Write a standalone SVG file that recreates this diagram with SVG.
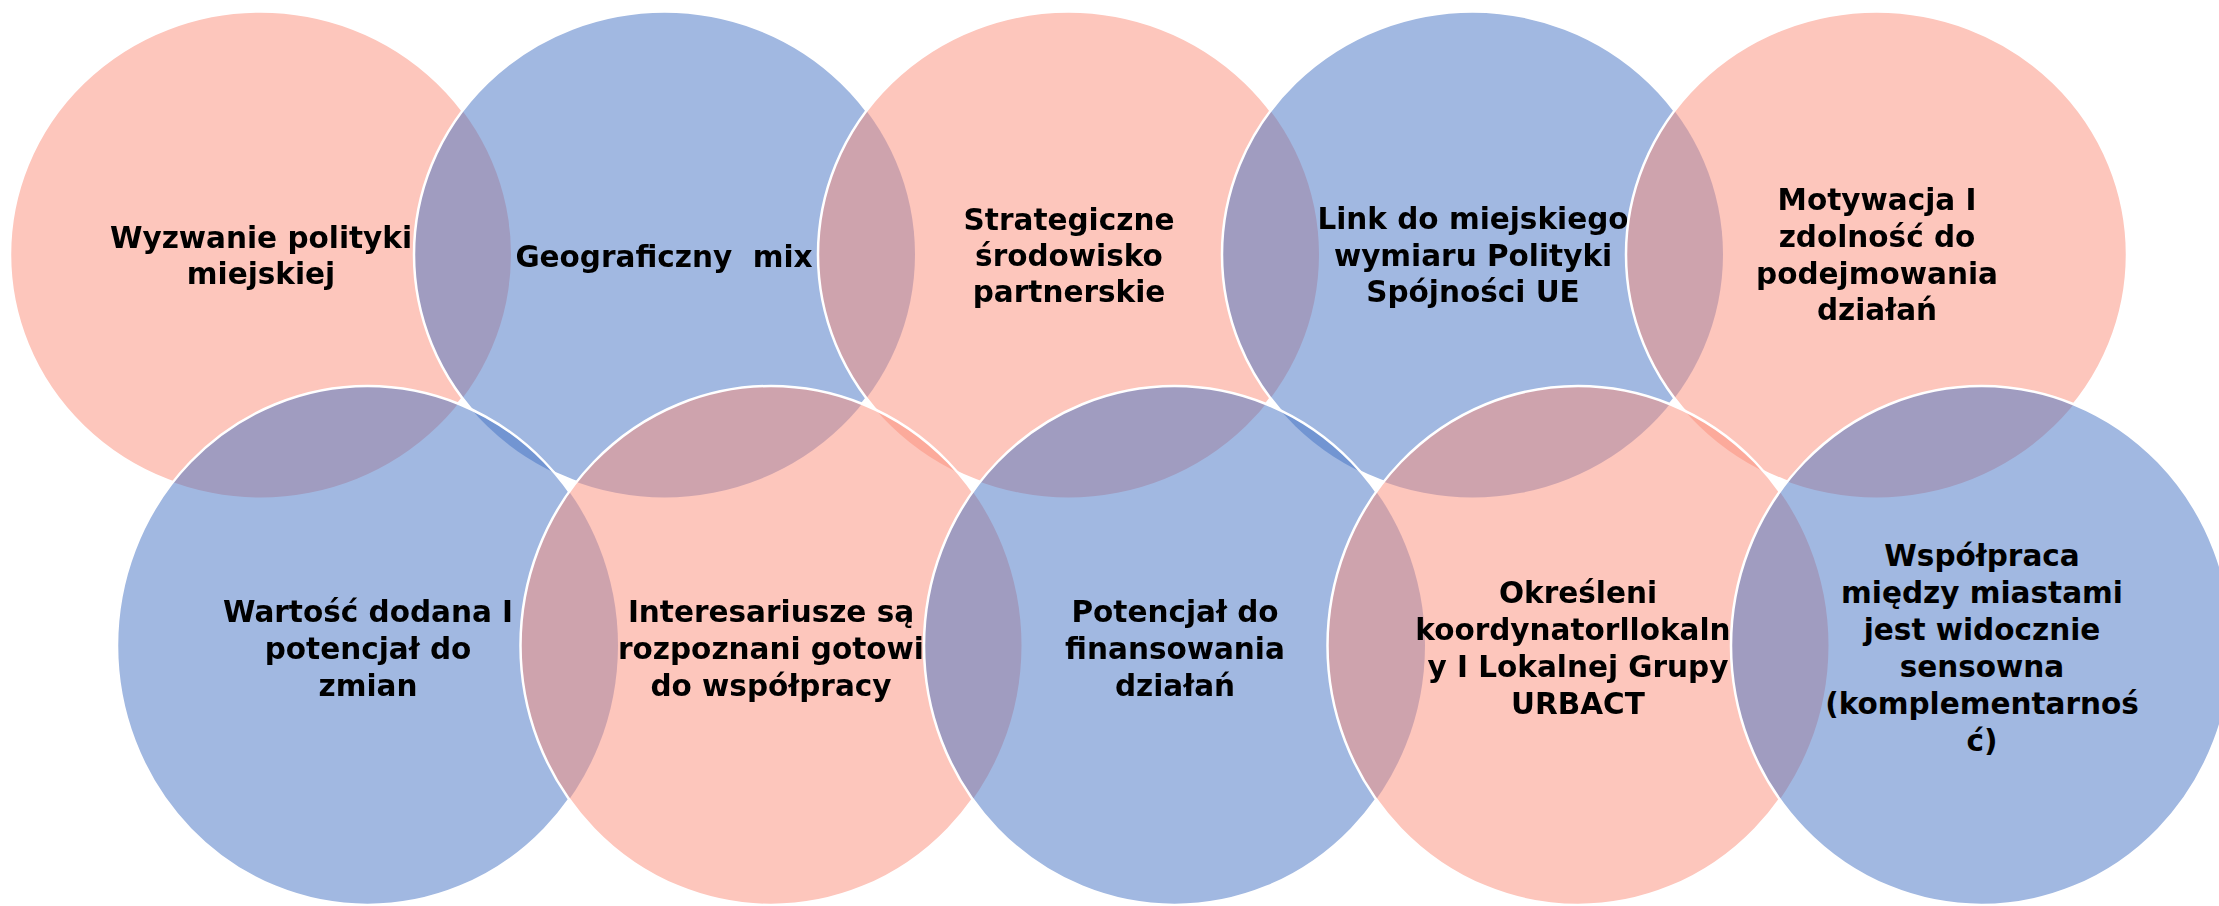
<svg xmlns="http://www.w3.org/2000/svg" xmlns:xlink="http://www.w3.org/1999/xlink" width="2219" height="906" viewBox="0 0 2219 906">
<style>
.pink{fill:#FB8D79;fill-opacity:.5}
.blue{fill:#4472C4;fill-opacity:.5}
.edge{fill:none;stroke:#fff;stroke-width:2.5}
.lbl{font-family:"DejaVu Sans","Liberation Sans",sans-serif;font-weight:bold;font-size:29.5px;fill:#000;text-anchor:middle}
</style>
<defs>
<ellipse id="e-t1" cx="260.5" cy="254.5" rx="250.5" ry="243"/>
<ellipse id="e-t2" cx="664.5" cy="254.5" rx="250.5" ry="243"/>
<ellipse id="e-t3" cx="1068.5" cy="254.5" rx="250.5" ry="243"/>
<ellipse id="e-t4" cx="1472.5" cy="254.5" rx="250.5" ry="243"/>
<ellipse id="e-t5" cx="1876.5" cy="254.5" rx="250.5" ry="243"/>
<ellipse id="e-b1" cx="367.5" cy="645.5" rx="250.5" ry="259.5"/>
<ellipse id="e-b2" cx="771" cy="645.5" rx="250.5" ry="259.5"/>
<ellipse id="e-b3" cx="1174.5" cy="645.5" rx="250.5" ry="259.5"/>
<ellipse id="e-b4" cx="1578" cy="645.5" rx="250.5" ry="259.5"/>
<ellipse id="e-b5" cx="1981.5" cy="645.5" rx="250.5" ry="259.5"/>
<mask id="m-t1" maskUnits="userSpaceOnUse" x="0" y="0" width="2219" height="906"><rect width="2219" height="906" fill="#fff"/><use href="#e-t2" fill="#000"/><use href="#e-b1" fill="#000"/><use href="#e-b2" fill="#000"/></mask>
<mask id="m-t2" maskUnits="userSpaceOnUse" x="0" y="0" width="2219" height="906"><rect width="2219" height="906" fill="#fff"/><use href="#e-t3" fill="#000"/><use href="#e-b1" fill="#000"/><use href="#e-b2" fill="#000"/><use href="#e-b3" fill="#000"/></mask>
<mask id="m-t3" maskUnits="userSpaceOnUse" x="0" y="0" width="2219" height="906"><rect width="2219" height="906" fill="#fff"/><use href="#e-t4" fill="#000"/><use href="#e-b2" fill="#000"/><use href="#e-b3" fill="#000"/><use href="#e-b4" fill="#000"/></mask>
<mask id="m-t4" maskUnits="userSpaceOnUse" x="0" y="0" width="2219" height="906"><rect width="2219" height="906" fill="#fff"/><use href="#e-t5" fill="#000"/><use href="#e-b3" fill="#000"/><use href="#e-b4" fill="#000"/><use href="#e-b5" fill="#000"/></mask>
<mask id="m-t5" maskUnits="userSpaceOnUse" x="0" y="0" width="2219" height="906"><rect width="2219" height="906" fill="#fff"/><use href="#e-b4" fill="#000"/><use href="#e-b5" fill="#000"/></mask>
<mask id="m-b1" maskUnits="userSpaceOnUse" x="0" y="0" width="2219" height="906"><rect width="2219" height="906" fill="#fff"/><use href="#e-b2" fill="#000"/></mask>
<mask id="m-b2" maskUnits="userSpaceOnUse" x="0" y="0" width="2219" height="906"><rect width="2219" height="906" fill="#fff"/><use href="#e-b3" fill="#000"/></mask>
<mask id="m-b3" maskUnits="userSpaceOnUse" x="0" y="0" width="2219" height="906"><rect width="2219" height="906" fill="#fff"/><use href="#e-b4" fill="#000"/></mask>
<mask id="m-b4" maskUnits="userSpaceOnUse" x="0" y="0" width="2219" height="906"><rect width="2219" height="906" fill="#fff"/><use href="#e-b5" fill="#000"/></mask>
</defs>
<rect width="2219" height="906" fill="#fff"/>
<g id="node-t1"><use href="#e-t1" class="pink"/><g mask="url(#m-t1)"><use href="#e-t1" class="edge"/>
<text class="lbl"><tspan x="261" y="248">Wyzwanie polityki</tspan><tspan x="261" y="284">miejskiej</tspan></text></g></g>
<g id="node-t2"><use href="#e-t2" class="blue"/><g mask="url(#m-t2)"><use href="#e-t2" class="edge"/>
<text class="lbl" style="white-space:pre"><tspan x="664" y="267">Geograficzny  mix</tspan></text></g></g>
<g id="node-t3"><use href="#e-t3" class="pink"/><g mask="url(#m-t3)"><use href="#e-t3" class="edge"/>
<text class="lbl"><tspan x="1069" y="230">Strategiczne</tspan><tspan x="1069" y="266">środowisko</tspan><tspan x="1069" y="302">partnerskie</tspan></text></g></g>
<g id="node-t4"><use href="#e-t4" class="blue"/><g mask="url(#m-t4)"><use href="#e-t4" class="edge"/>
<text class="lbl"><tspan x="1473" y="229">Link do miejskiego</tspan><tspan x="1473" y="266">wymiaru Polityki</tspan><tspan x="1473" y="302">Spójności UE</tspan></text></g></g>
<g id="node-t5"><use href="#e-t5" class="pink"/><g mask="url(#m-t5)"><use href="#e-t5" class="edge"/>
<text class="lbl"><tspan x="1877" y="210">Motywacja I</tspan><tspan x="1877" y="247">zdolność do</tspan><tspan x="1877" y="284">podejmowania</tspan><tspan x="1877" y="320">działań</tspan></text></g></g>
<g id="node-b1"><use href="#e-b1" class="blue"/><g mask="url(#m-b1)"><use href="#e-b1" class="edge"/>
<text class="lbl"><tspan x="368" y="622">Wartość dodana I</tspan><tspan x="368" y="659">potencjał do</tspan><tspan x="368" y="696">zmian</tspan></text></g></g>
<g id="node-b2"><use href="#e-b2" class="pink"/><g mask="url(#m-b2)"><use href="#e-b2" class="edge"/>
<text class="lbl"><tspan x="771" y="622">Interesariusze są</tspan><tspan x="771" y="659">rozpoznani gotowi</tspan><tspan x="771" y="696">do współpracy</tspan></text></g></g>
<g id="node-b3"><use href="#e-b3" class="blue"/><g mask="url(#m-b3)"><use href="#e-b3" class="edge"/>
<text class="lbl"><tspan x="1175" y="622">Potencjał do</tspan><tspan x="1175" y="659">finansowania</tspan><tspan x="1175" y="696">działań</tspan></text></g></g>
<g id="node-b4"><use href="#e-b4" class="pink"/><g mask="url(#m-b4)"><use href="#e-b4" class="edge"/>
<text class="lbl"><tspan x="1578" y="603">Określeni</tspan><tspan x="1578" y="640">koordynatorllokalni</tspan><tspan x="1578" y="677">y I Lokalnej Grupy</tspan><tspan x="1578" y="714">URBACT</tspan></text></g></g>
<g id="node-b5"><use href="#e-b5" class="blue"/><use href="#e-b5" class="edge"/>
<text class="lbl"><tspan x="1982" y="566">Współpraca</tspan><tspan x="1982" y="603">między miastami</tspan><tspan x="1982" y="640">jest widocznie</tspan><tspan x="1982" y="677">sensowna</tspan><tspan x="1982" y="714">(komplementarnoś</tspan><tspan x="1982" y="751">ć)</tspan></text></g>
<g id="connectors"/>
</svg>
